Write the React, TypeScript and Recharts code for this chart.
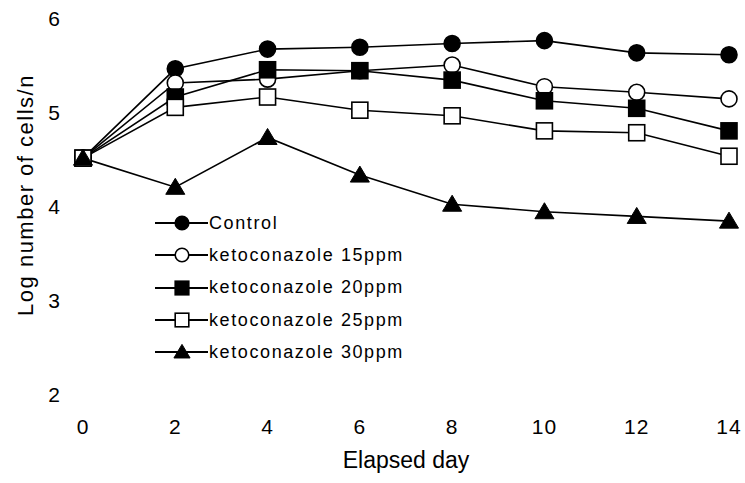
import React from 'react';
import { LineChart, Line, XAxis, YAxis, Legend } from 'recharts';

const days = [0, 2, 4, 6, 8, 10, 12, 14];
const control = [4.52, 5.47, 5.68, 5.7, 5.74, 5.77, 5.64, 5.62];
const keto15 = [4.52, 5.32, 5.36, 5.45, 5.51, 5.28, 5.22, 5.15];
const keto20 = [4.52, 5.17, 5.46, 5.45, 5.35, 5.13, 5.05, 4.81];
const keto25 = [4.52, 5.06, 5.17, 5.03, 4.97, 4.81, 4.79, 4.54];
const keto30 = [4.52, 4.21, 4.74, 4.34, 4.03, 3.95, 3.9, 3.85];
const yTicks = [2, 3, 4, 5, 6];

type Shape = 'circle' | 'square' | 'triangle';

const series = [
  { key: 'control', name: 'Control', values: control, shape: 'circle' as Shape, filled: true },
  { key: 'k15', name: 'ketoconazole 15ppm', values: keto15, shape: 'circle' as Shape, filled: false },
  { key: 'k20', name: 'ketoconazole 20ppm', values: keto20, shape: 'square' as Shape, filled: true },
  { key: 'k25', name: 'ketoconazole 25ppm', values: keto25, shape: 'square' as Shape, filled: false },
  { key: 'k30', name: 'ketoconazole 30ppm', values: keto30, shape: 'triangle' as Shape, filled: true },
];

const data = days.map((d, i) => {
  const row: Record<string, number> = { day: d };
  series.forEach((s) => (row[s.key] = s.values[i]));
  return row;
});

const FONT = '"Liberation Sans", Arial, sans-serif';

// s = half-size of the marker
const Marker = ({ cx, cy, shape, filled, s = 8 }: { cx: number; cy: number; shape: Shape; filled: boolean; s?: number }) => {
  const fill = filled ? '#000' : '#fff';
  if (shape === 'circle') {
    return <circle cx={cx} cy={cy} r={s} fill={fill} stroke="#000" strokeWidth={1.6} />;
  }
  if (shape === 'square') {
    return <rect x={cx - s} y={cy - s} width={s * 2} height={s * 2} fill={fill} stroke="#000" strokeWidth={1.6} />;
  }
  const w = s * 1.19;
  return <polygon points={`${cx},${cy - s * 1.12} ${cx + w},${cy + s * 0.88} ${cx - w},${cy + s * 0.88}`} fill={fill} stroke="#000" strokeWidth={1} />;
};

const LegendBox = (props: any) => {
  const payload = props.payload || [];
  return (
    <div style={{ fontFamily: FONT, textAlign: 'left' }}>
      {payload.map((p: any) => {
        const s = series.find((x) => x.key === p.dataKey)!;
        return (
          <div key={s.key} style={{ display: 'flex', alignItems: 'center', height: 32.3 }}>
            <svg width={53} height={24}>
              <line x1={0} y1={12} x2={53} y2={12} stroke="#000" strokeWidth={1.8} />
              <Marker cx={27} cy={12} shape={s.shape} filled={s.filled} s={6.8} />
            </svg>
            <span style={{ fontSize: 18, letterSpacing: 1.6, marginLeft: 1, color: '#000' }}>{s.name}</span>
          </div>
        );
      })}
    </div>
  );
};

const YTitle = (props: any) => {
  const vb = props.viewBox;
  const cx = 25;
  const cy = vb.y + vb.height / 2 - 12;
  return (
    <text
      x={cx}
      y={cy}
      transform={`rotate(-90, ${cx}, ${cy})`}
      textAnchor="middle"
      dominantBaseline="central"
      style={{ fontFamily: FONT, fontSize: 22, letterSpacing: 1.5, fill: '#000' }}
    >
      Log number of cells/n
    </text>
  );
};

export default function App() {
  return (
    <div style={{ position: 'absolute', left: 0, top: 0, background: '#fff' }}>
      <LineChart width={745} height={483} data={data} margin={{ top: 19, right: 16, bottom: 28, left: 0 }}>
        <XAxis
          dataKey="day"
          type="number"
          domain={[0, 14]}
          ticks={days}
          axisLine={false}
          tickLine={false}
          tickSize={0}
          tickMargin={24}
          height={60}
          tick={{ fill: '#000', fontSize: 21, fontFamily: FONT, letterSpacing: 1 }}
          label={{ value: 'Elapsed day', position: 'insideBottom', offset: -13, style: { fill: '#000', fontSize: 23, fontFamily: FONT } }}
        />
        <YAxis
          type="number"
          domain={[2, 6]}
          ticks={yTicks}
          axisLine={false}
          tickLine={false}
          tickSize={0}
          tickMargin={23}
          width={83}
          tick={{ fill: '#000', fontSize: 21, fontFamily: FONT }}
          label={<YTitle />}
        />
        <Legend
          layout="horizontal"
          verticalAlign="middle"
          align="center"
          content={<LegendBox />}
          wrapperStyle={{ position: 'absolute', left: 155, top: 207, width: 300, height: 165 }}
        />
        {series.map((s) => (
          <Line
            key={s.key}
            dataKey={s.key}
            name={s.name}
            stroke="#000"
            strokeWidth={1.6}
            isAnimationActive={false}
            dot={(p: any) => <Marker key={`${s.key}-${p.index}`} cx={p.cx} cy={p.cy} shape={s.shape} filled={s.filled} />}
            activeDot={false}
          />
        ))}
      </LineChart>
    </div>
  );
}
